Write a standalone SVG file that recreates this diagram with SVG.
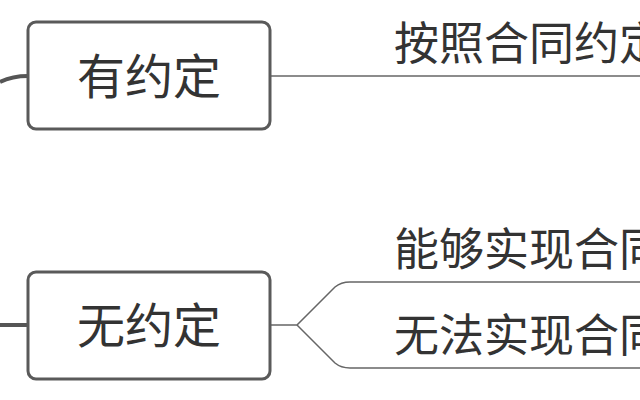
<svg xmlns="http://www.w3.org/2000/svg" width="640" height="400" viewBox="0 0 640 400">
<style>
.box{fill:#fff;stroke:#5a5a5a;stroke-width:3}
.t{font-family:"Noto Sans CJK SC","Liberation Sans",sans-serif;fill:#333}
.c{fill:none;stroke:#666;stroke-width:1.5}
.k{fill:none;stroke:#555;stroke-width:4}
</style>
<rect width="640" height="400" fill="#fff"/>
<g id="connectors">
<path class="k" d="M0,82 Q12,76 28,76"/>
<path class="k" d="M0,325 L28,325"/>
<path class="c" d="M270,76 L640,76"/>
<path class="c" d="M270,325 L297,325 L335,287 Q341,282 350,282 L640,282"/>
<path class="c" d="M297,325 L335,363 Q341,368 350,368 L640,368"/>
</g>
<g id="n1"><rect class="box" x="28" y="22" width="242" height="107" rx="8"/><text class="t" x="149" y="94" font-size="48" text-anchor="middle">有约定</text></g>
<g id="n2"><rect class="box" x="28" y="272" width="242" height="107" rx="8"/><text class="t" x="149" y="343" font-size="48" text-anchor="middle">无约定</text></g>
<g id="n3"><text class="t" x="394" y="60" font-size="45">按照合同约定</text></g>
<g id="n4"><text class="t" x="394" y="266" font-size="45">能够实现合同</text></g>
<g id="n5"><text class="t" x="394" y="352" font-size="45">无法实现合同</text></g>
</svg>
